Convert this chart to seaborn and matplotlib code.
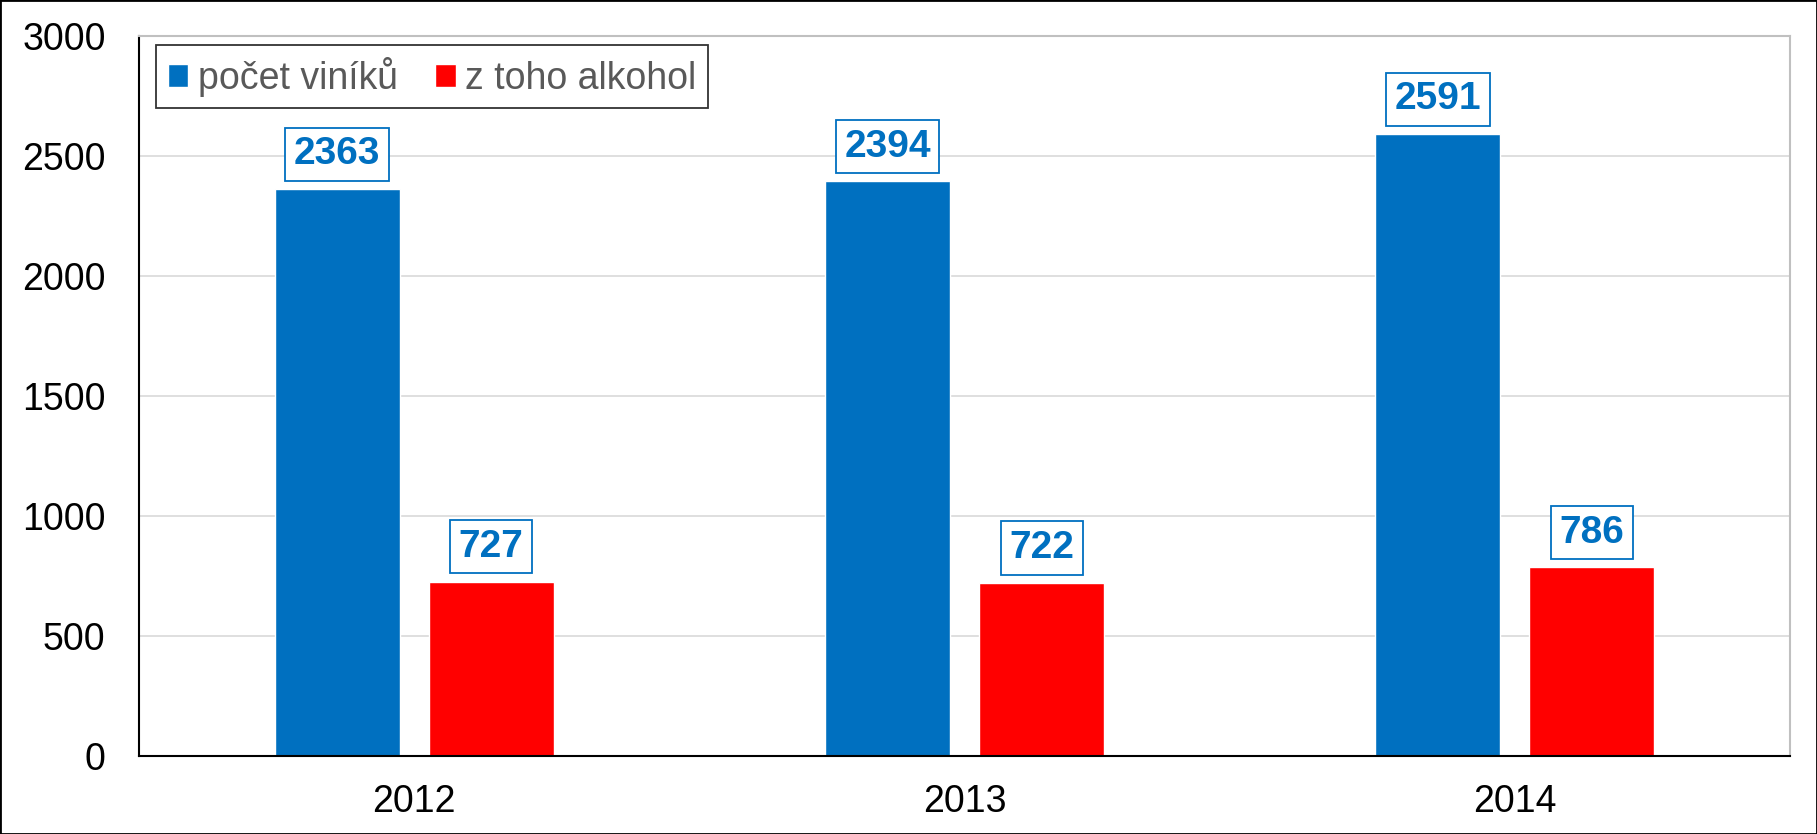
import pandas as pd
import numpy as np
import matplotlib.pyplot as plt
import seaborn as sns

years = ["2012", "2013", "2014"]
vinici = [2363, 2394, 2591]
alkohol = [727, 722, 786]
series = ["počet viníků", "z toho alkohol"]
colors = ["#0070C0", "#FF0000"]

df = pd.DataFrame({
    "rok": years * 2,
    "pocet": vinici + alkohol,
    "serie": [series[0]] * 3 + [series[1]] * 3,
})

sns.set_style("white")
plt.rcParams['font.family'] = ['Liberation Sans', 'DejaVu Sans']

fig = plt.figure(figsize=(18.17, 8.34), dpi=100)
ax = fig.add_axes([139 / 1817, 1 - 756 / 834, (1790 - 139) / 1817, (756 - 36) / 834])
fig.patches.append(plt.Rectangle((0, 0), 1, 1, transform=fig.transFigure,
                                 fill=False, edgecolor="black", linewidth=2))

sns.barplot(data=df, x="rok", y="pocet", hue="serie", palette=colors,
            width=0.56, gap=0.19, ax=ax, saturation=1)

ax.set_ylim(0, 3000)
ax.set_yticks(np.arange(0, 3001, 500))
ax.yaxis.grid(True, color="#d9d9d9", linewidth=1.2)
ax.set_axisbelow(True)
ax.set_xlabel("")
ax.set_ylabel("")
ax.tick_params(axis="both", labelsize=27, length=0, colors="black")
ax.tick_params(axis="x", pad=20)
ax.tick_params(axis="y", pad=24)

ax.spines["left"].set_color("black")
ax.spines["bottom"].set_color("black")
ax.spines["left"].set_linewidth(1.5)
ax.spines["bottom"].set_linewidth(1.5)
ax.spines["top"].set_color("#c0c0c0")
ax.spines["right"].set_color("#c0c0c0")
ax.spines["top"].set_linewidth(1.5)
ax.spines["right"].set_linewidth(1.5)

# value labels in boxes
for cont in ax.containers:
    ax.bar_label(cont, padding=12, fontsize=28, fontweight="bold", color="#0070C0",
                 bbox=dict(boxstyle="square,pad=0.22", facecolor="white",
                           edgecolor="#0070C0", linewidth=1.3))

leg = ax.legend(loc="upper left", bbox_to_anchor=(0.0105, 0.987), borderaxespad=0,
                ncol=2, fontsize=27, frameon=True, fancybox=False,
                handlelength=0.55, handleheight=0.55, handletextpad=0.25,
                columnspacing=1.0, borderpad=0.3)
leg.get_frame().set_edgecolor("black")
leg.get_frame().set_linewidth(1.3)
for t in leg.get_texts():
    t.set_color("#595959")

plt.savefig("out.png", dpi=100)
